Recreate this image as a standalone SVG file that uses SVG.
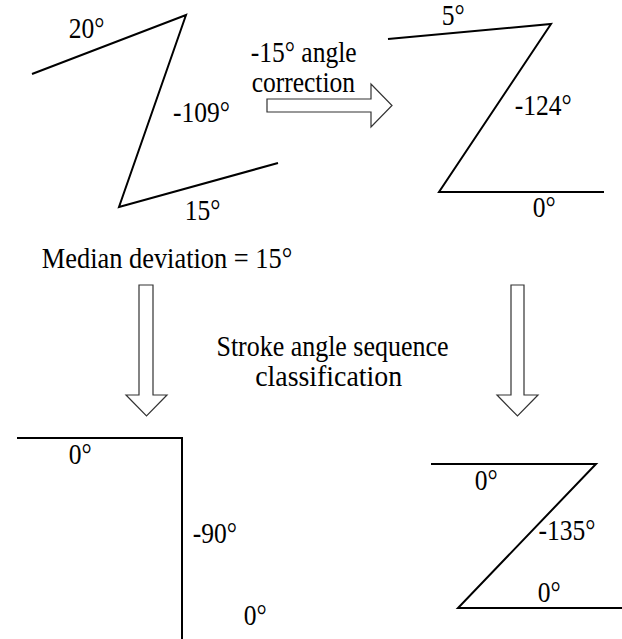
<svg xmlns="http://www.w3.org/2000/svg" width="622" height="639" viewBox="0 0 622 639">
<style>
.s{fill:none;stroke:#000;stroke-width:2;stroke-linejoin:miter}
.a{fill:#fff;stroke:#333;stroke-width:1.2}
.t{font-family:'Liberation Serif','Times New Roman',serif;font-size:29px;fill:#000}
.big{font-size:29.5px}
</style>
<rect width="622" height="639" fill="#fff"/>
<g id="z1">
<polyline class="s" points="32,74 186,15 119,207 278,163"/>
<g class="t" transform="scale(0.88,1)">
<text x="78" y="38">20°</text>
<text x="196.5" y="122">-109°</text>
<text x="210" y="220">15°</text>
</g>
</g>
<g id="z2">
<polyline class="s" points="388,39 551,24 439,192 604,192"/>
<g class="t" transform="scale(0.88,1)">
<text x="502" y="25">5°</text>
<text x="585" y="115">-124°</text>
<text x="605.5" y="217">0°</text>
</g>
</g>
<g id="l-shape">
<polyline class="s" points="17,438 182,438 182,639"/>
<g class="t" transform="scale(0.88,1)">
<text x="78" y="464">0°</text>
<text x="219" y="543">-90°</text>
<text x="277" y="625">0°</text>
</g>
</g>
<g id="z3">
<polyline class="s" points="431,464 596,464 458,608 622,608"/>
<g class="t" transform="scale(0.88,1)">
<text x="539.5" y="490">0°</text>
<text x="612" y="540">-135°</text>
<text x="611" y="602">0°</text>
</g>
</g>
<g id="labels" class="t" transform="scale(0.88,1)">
<text x="285" y="62">-15° angle</text>
<text x="286" y="92">correction</text>
<text x="47.5" y="268" style="font-size:30px">Median deviation = 15°</text>
<text x="246" y="356" class="big">Stroke angle sequence</text>
<text x="290" y="386" class="big" textLength="167" lengthAdjust="spacingAndGlyphs">classification</text>
</g>
<g id="connectors">
<polygon class="a" points="267,99 371,99 371,84 392,105.5 371,127 371,112 267,112"/>
<polygon class="a" points="139,285 153,285 153,395 167,395 146.5,416 126,395 139,395"/>
<polygon class="a" points="511,285 524,285 524,395 538,395 517.5,416 497,395 511,395"/>
</g>
</svg>
